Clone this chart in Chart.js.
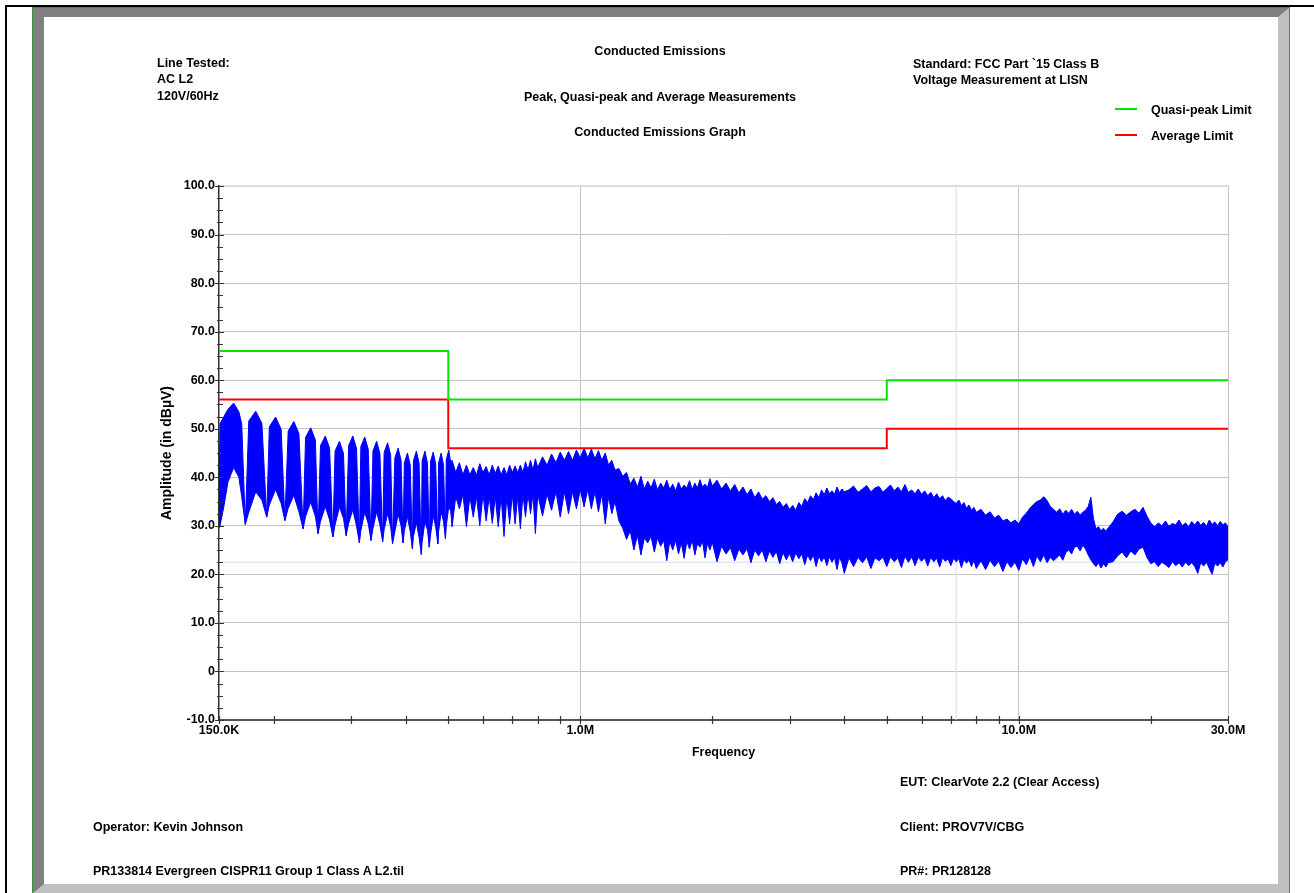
<!DOCTYPE html>
<html><head><meta charset="utf-8">
<script src="https://cdn.jsdelivr.net/npm/chart.js@4.4.1/dist/chart.umd.min.js"></script>
<style>
html,body{margin:0;padding:0;background:#fff;}
body{width:1314px;height:893px;position:relative;overflow:hidden;font-family:'Liberation Sans',Arial,Helvetica,sans-serif;font-weight:bold;font-size:12.5px;color:#000;}
.t{position:absolute;white-space:nowrap;line-height:15px;z-index:3;}
.c{text-align:center;width:600px;left:360px;}
.lg{position:absolute;width:22px;height:2px;z-index:3;}
</style></head><body>
<div style="position:absolute;left:5px;top:5px;width:1309px;height:2px;background:#000"></div>
<div style="position:absolute;left:5px;top:5px;width:2px;height:888px;background:#000"></div>
<div style="position:absolute;left:32px;top:7px;width:1258px;height:886px;box-sizing:border-box;border:1px solid #3f8f3f;border-bottom:none;background:#fff;">
  <div style="position:absolute;left:0;top:0;right:0;bottom:0;box-sizing:border-box;border-style:solid;border-width:9px 11px 9px 11px;border-color:#808080 #c0c0c0 #c0c0c0 #808080;"></div>
</div>
<canvas id="c" width="1314" height="893" style="position:absolute;left:0;top:0;z-index:2"></canvas>

<div class="t" style="left:157px;top:56px">Line Tested:</div>
<div class="t" style="left:157px;top:72px">AC L2</div>
<div class="t" style="left:157px;top:89px">120V/60Hz</div>
<div class="t c" style="top:44px">Conducted Emissions</div>
<div class="t c" style="top:90px">Peak, Quasi-peak and Average Measurements</div>
<div class="t c" style="top:125px">Conducted Emissions Graph</div>
<div class="t" style="left:913px;top:56.5px">Standard: FCC Part `15 Class B</div>
<div class="t" style="left:913px;top:73px">Voltage Measurement at LISN</div>
<div class="lg" style="left:1115px;top:108px;background:#00e600"></div>
<div class="t" style="left:1151px;top:102.5px">Quasi-peak Limit</div>
<div class="lg" style="left:1115px;top:134px;background:#ff0000"></div>
<div class="t" style="left:1151px;top:128.5px">Average Limit</div>
<div class="t" style="left:900px;top:774.5px">EUT: ClearVote 2.2 (Clear Access)</div>
<div class="t" style="left:93px;top:819.5px">Operator: Kevin Johnson</div>
<div class="t" style="left:900px;top:819.5px">Client: PROV7V/CBG</div>
<div class="t" style="left:93px;top:863.5px">PR133814 Evergreen CISPR11 Group 1 Class A L2.til</div>
<div class="t" style="left:900px;top:863.5px">PR#: PR128128</div>

<script>
// ---------- DATA ----------
// Limit lines (frequency in MHz, level in dBµV)
const limitFreq = [0.15, 0.5, 0.5, 5, 5, 30];
const qpLimit   = [66, 66, 56, 56, 60, 60];
const avgLimit  = [56, 56, 46, 46, 50, 50];

// Peak trace, low-frequency lobes (150 kHz - 0.5 MHz): frequency (MHz), upper / lower envelope (dBµV)
const lobeFreq = [
 0.1500,0.1508,0.1539,0.1572,0.1620,0.1665,0.1690,0.1722,
 0.1754,0.1819,0.1879,0.1927, 0.1954,0.2019,0.2079,0.2120,
 0.2157,0.2222,0.2282,0.2333, 0.2363,0.2428,0.2488,0.2523,
 0.2556,0.2621,0.2681,0.2728, 0.2759,0.2824,0.2884,0.2924,
 0.2963,0.3028,0.3088,0.3135, 0.3159,0.3224,0.3284,0.3332,
 0.3367,0.3432,0.3492,0.3542, 0.3570,0.3635,0.3695,0.3731,
 0.3777,0.3842,0.3902,0.3943, 0.3970,0.4035,0.4095,0.4141,
 0.4164,0.4229,0.4289,0.4340, 0.4358,0.4423,0.4483,0.4525,
 0.4555,0.4620,0.4680,0.4733, 0.4752,0.4817,0.4877,0.4926,
 0.4947,0.5012,0.5065
];
const lobeUpper = [
 33,51,52.5,54,55.3,53.5,51,30.3,
 51.6,53.6,51.1,31.8, 50.4,52.4,49.9,31.1,
 49.5,51.5,49,29.4, 48.2,50.2,47.7,28.4,
 46.5,48.5,46,27.7, 45.4,47.4,44.9,28.0,
 46.5,48.5,46,26.5, 46.3,48.3,45.8,27.0,
 45.4,47.4,44.9,26.7, 45.1,47.1,44.6,26.3,
 44,46,43.5,26.5, 43,45,42.5,25.3,
 43.4,45.4,42.9,24.1, 43.4,45.4,42.9,25.6,
 43.2,45.2,42.7,26.3, 43,45,42.5,27.4,
 43.6,45.6,43
];
const lobeLower = [
 29.5,30,34,39,42,40,36,30.3,
 32.8,37,35.3,31.8, 34.3,37.5,34.6,31.1,
 33.6,36.3,32.9,29.4, 31.9,34.9,31.9,28.4,
 30.9,34,31.2,27.7, 30.2,33.9,31.5,28.0,
 30.5,33.3,30,26.5, 29,32.8,30.5,27.0,
 29.5,32.9,30.2,26.7, 29.2,32.5,29.8,26.3,
 28.8,32.4,30,26.5, 29,31.9,28.8,25.3,
 27.8,30.7,27.6,24.1, 26.6,30.9,29.1,25.6,
 28.1,32,29.8,26.3, 28.8,32.9,30.9,27.4,
 29.9,34,33
];

// Peak trace, 0.5 - 1.2 MHz
const midFreq = [
 0.51,0.52,0.53,0.54,0.55,0.56,0.57,0.58,0.59,0.60,
 0.61,0.62,0.63,0.64,0.65,0.66,0.67,0.68,0.69,0.70,
 0.71,0.72,0.73,0.74,0.75,0.76,0.77,0.78,0.79,0.80,
 0.82,0.84,0.86,0.88,0.90,0.92,0.94,0.96,0.98,1.00,
 1.02,1.04,1.06,1.08,1.10,1.12,1.14,1.16,1.18,1.20
];
const midUpper = [
 43.5,41,43,40.5,42.5,40.5,42,40.5,42.8,41,
 42.2,40.5,42.5,40.8,42.3,40.5,42,40.5,42.5,41,
 42.3,41,42.5,41,43.2,41.5,43.5,41.5,43.8,42,
 44.2,42.5,44.8,43,45.2,43.5,45.3,43.5,45.6,44,
 46.0,44,45.8,43.8,45.5,43.5,45,42.5,43.5,41.5
];
const midLower = [
 29.8,36,33.5,36.5,29.8,36,31.8,36,30,36.5,
 31,36,30.5,36,29.8,36,27.8,36,30.4,36.5,
 30.4,36,29.4,36.5,31.8,36.5,32.5,36.5,28.4,36.5,
 32,36.5,33.2,37,31.8,37,32.5,37,33.5,37.5,
 33.9,37.5,33.5,37,32.9,36.5,30.4,36,32.5,35
];

// Peak trace, 1.2 - 30 MHz
const hfFreq = [
 1.225,1.25,1.275,1.3,1.325,1.35,1.375,1.4,1.425,1.45,
 1.475,1.5,1.525,1.55,1.575,1.6,1.625,1.65,1.675,1.7,
 1.725,1.75,1.775,1.8,1.825,1.85,1.875,1.9,1.925,1.95,
 1.975,2.0,
 2.05,2.1,2.15,2.2,2.25,2.3,2.35,2.4,2.45,2.5,
 2.55,2.6,2.65,2.7,2.75,2.8,2.85,2.9,2.95,3.0,
 3.05,3.1,3.15,3.2,3.25,3.3,3.35,3.4,3.45,3.5,
 3.55,3.6,3.65,3.7,3.75,3.8,3.85,3.9,3.95,4.0,
 4.1,4.2,4.3,4.4,4.5,4.6,4.7,4.8,4.9,5.0,
 5.1,5.2,5.3,5.4,5.5,5.6,5.7,5.8,5.9,6.0,
 6.1,6.2,6.3,6.4,6.5,6.6,6.7,6.8,6.9,7.0,
 7.1,7.2,7.3,7.4,7.5,7.6,7.7,7.8,7.9,8.0,
 8.2,8.4,8.6,8.8,9.0,9.2,9.4,9.6,9.8,10.0,
 10.2,10.4,10.6,10.8,11.0,11.2,11.4,11.6,11.8,12.0,
 12.2,12.4,12.6,12.8,13.0,13.2,13.4,13.6,13.8,14.0,
 14.2,14.4,14.6,14.8,15.0,15.2,15.4,15.6,15.8,16.0,
 16.4,16.8,17.2,17.6,18.0,18.4,18.8,19.2,19.6,20.0,
 20.4,20.8,21.2,21.6,22.0,22.4,22.8,23.2,23.6,24.0,
 24.4,24.8,25.2,25.6,26.0,26.4,26.8,27.2,27.6,28.0,
 28.4,28.8,29.2,29.6,30.0
];
const hfUpper = [
 41.8,40.2,41,38.6,39.8,38,40.2,37.6,39.2,37.8,
 39.6,37.4,38.8,37.8,39.4,37.5,38.6,37.2,39,37.6,
 38.4,37.8,39.3,37.5,38.8,37.8,39.5,38,38.6,37.9,
 39.7,38.2,
 39.4,37.6,38.8,37.2,38.5,36.8,38,36.4,37.6,35.8,
 37,35.5,36.2,35,35.8,34.4,35,33.8,34.6,33.4,
 34.2,33.2,34.8,34,35.6,34.8,36.2,35.4,36.8,35.8,
 37.4,36.4,37.8,36.6,37.2,36.5,38,36.8,37.6,37,
 37.4,38.2,36.9,37.6,38.3,37,37.8,38.1,36.9,37.7,
 38.4,37.2,38,37,38.5,36.9,37.4,36.6,37.6,36.5,
 37.2,36.2,36.9,35.8,36.6,35.6,36.2,35.2,35.9,35.6,
 35,34.6,35.3,34.2,34.8,33.6,34.3,33.2,33.8,32.8,
 33.4,32.2,32.9,31.6,32.2,31,31.4,30.6,31.2,30.4,
 31.8,32.6,33.6,34.4,35,35.3,36,35.2,34,33.4,
 32.8,33.5,32.4,33.2,32.6,33.4,32.4,33,32.2,32.8,
 33.2,34,35.9,31.5,29.4,29.8,29,29.5,28.9,29.6,
 30.8,32.4,33,32.2,32.9,33.4,32.6,33.8,32,30.6,
 29.8,30.6,30,31,29.9,30.5,30.2,31.2,30,30.6,
 29.8,30.9,30.2,31,30.1,30.7,29.9,31.2,30.3,30.8,
 30,30.9,30.2,30.6,29.8
];
const hfLower = [
 31,29.5,27.2,29,25,28,24,27.5,26.5,27.8,
 24.6,27.5,25.8,27,22.8,26.8,25,27,24.2,26.5,
 23.3,26.8,25.2,27,24,26.3,25.6,26.8,23.4,26.4,
 25,26.6,
 22.6,25.8,24.2,25.5,22.8,25.2,24,25.3,22.4,25,
 23.8,25,22.6,24.8,23.5,24.7,22.2,24.5,23,24.3,
 22.6,24.4,23.2,24.2,22,24,22.8,24,21.6,23.8,
 22.6,23.6,21.8,23.6,22.5,23.5,21,23.5,22.4,20.2,
 23.4,21.6,23.5,22.4,23.6,21.2,23.4,22.8,23.5,21.6,
 23.6,22.6,23.4,21.4,23.7,22.5,23.6,21.8,23.5,22.7,
 23.4,21.7,23.5,22.6,23.3,21.5,23.4,22.7,23.2,21.8,
 23.3,22.6,23.2,21.4,23.1,22.3,23,21.6,22.9,21.2,
 22.8,21,22.9,21.6,22.7,20.6,22.6,21.4,22.5,20.8,
 23.2,22,23.6,21.6,23.8,22.6,24,22.4,23.5,22.8,
 23.4,24,22.9,24.5,25,24.2,25.6,25.8,24.8,26,
 25.2,24,23,22.2,21.6,22.4,21.3,22.2,21.5,22.4,
 22.6,23.8,24.6,23.4,24.8,24,25.2,25.6,23.5,22.2,
 22.6,21.6,22.5,22,21.4,22.6,21.8,22.4,21.5,22.5,
 21.8,22.4,21.6,20.2,22.4,21.7,22.5,21.2,20,22.3,
 21.7,22.4,21.5,22.6,23
];

// Marker cursor lines (light blue)
const markerFreq = 7.2;
const markerLevel = 22.5;

// Axis ticks
const xTickValues = [0.15,0.2,0.3,0.4,0.5,0.6,0.7,0.8,0.9,1,2,3,4,5,6,7,8,9,10,20,30];
const xTickLabels = ['150.0K','','','','','','','','','1.0M','','','','','','','','','10.0M','','30.0M'];
const yTickValues = [-10,0,10,20,30,40,50,60,70,80,90,100];
const yTickLabels = ['-10.0','0','10.0','20.0','30.0','40.0','50.0','60.0','70.0','80.0','90.0','100.0'];

// ---------- CHART ----------
const traceFreq  = lobeFreq.concat(midFreq, hfFreq);
const traceUpper = lobeUpper.concat(midUpper, hfUpper);
const traceLower = lobeLower.concat(midLower, hfLower);

const FONT = "'Liberation Sans', Arial, Helvetica, sans-serif";
Chart.defaults.font = {family: FONT, size: 12.5, weight: 'bold'};
Chart.defaults.color = '#000';

const pts = (xs, ys) => xs.map((x, i) => ({x: x, y: ys[i]}));
const isMajorY = v => yTickValues.some(t => Math.abs(t - v) < 1e-6);
const isGridX = v => xTickLabels[xTickValues.indexOf(v)] !== '' && v !== xTickValues[0];

const crossTicks = {
  id: 'crossTicks',
  afterDraw(chart) {
    const {ctx, chartArea: a, scales: {x, y}} = chart;
    ctx.save();
    ctx.strokeStyle = '#333';
    ctx.lineWidth = 1.2;
    ctx.beginPath();
    y.ticks.forEach(t => {
      const py = Math.round(y.getPixelForValue(t.value)) + 0.5;
      const m = isMajorY(t.value);
      ctx.moveTo(a.left - (m ? 4 : 2), py);
      ctx.lineTo(a.left + (m ? 5 : 4), py);
    });
    x.ticks.forEach(t => {
      const px = Math.round(x.getPixelForValue(t.value)) + 0.5;
      ctx.moveTo(px, a.bottom - 4);
      ctx.lineTo(px, a.bottom + 4);
    });
    ctx.stroke();
    ctx.restore();
  }
};

new Chart(document.getElementById('c'), {
  type: 'line',
  data: {
    datasets: [
      {label: 'Quasi-peak Limit', data: pts(limitFreq, qpLimit), borderColor: '#00e600', borderWidth: 2, order: 0},
      {label: 'Average Limit', data: pts(limitFreq, avgLimit), borderColor: '#ff0000', borderWidth: 2, order: 1},
      {label: 'Peak', data: pts(traceFreq, traceUpper), borderColor: '#0000ff', backgroundColor: '#0000ff', borderWidth: 1, fill: '+1', order: 2},
      {label: 'Peak (low)', data: pts(traceFreq, traceLower), borderColor: '#0000ff', borderWidth: 1, fill: false, order: 3},
      {label: 'Marker f', data: [{x: markerFreq, y: -10}, {x: markerFreq, y: 100}], borderColor: '#cddff2', borderWidth: 1, order: 5},
      {label: 'Marker L', data: [{x: 0.15, y: markerLevel}, {x: 30, y: markerLevel}], borderColor: '#cddff2', borderWidth: 1, order: 5}
    ]
  },
  options: {
    responsive: false,
    animation: false,
    events: [],
    layout: {padding: {left: 159, right: 86, top: 186, bottom: 129}},
    elements: {point: {radius: 0}, line: {tension: 0}},
    plugins: {legend: {display: false}, tooltip: {enabled: false}},
    scales: {
      x: {
        type: 'logarithmic', min: 0.15, max: 30,
        afterFit(s) { s.height = 44; },
        afterBuildTicks(s) { s.ticks = xTickValues.map(v => ({value: v})); },
        ticks: {autoSkip: false, maxRotation: 0, padding: 3,
          callback: (v) => { const i = xTickValues.indexOf(v); return i >= 0 ? xTickLabels[i] : ''; }},
        grid: {drawTicks: false, lineWidth: 1,
          color: c => (c.tick && isGridX(c.tick.value)) ? '#c4c4c4' : 'rgba(0,0,0,0)'},
        border: {color: '#555', width: 2},
        title: {display: true, text: 'Frequency', padding: {top: 0, bottom: 3.5}}
      },
      y: {
        min: -10, max: 100,
        afterFit(s) { s.width = 60; },
        ticks: {stepSize: 2.5, maxTicksLimit: 60, autoSkip: false, padding: 4,
          callback: (v) => { const i = yTickValues.findIndex(t => Math.abs(t - v) < 1e-6); return i >= 0 ? yTickLabels[i] : ''; }},
        grid: {drawTicks: false,
          lineWidth: c => (c.tick && c.tick.value === 100) ? 2 : 1,
          color: c => !c.tick ? 'rgba(0,0,0,0)' : (c.tick.value === 100 ? '#dcdcdc' : (isMajorY(c.tick.value) && c.tick.value !== -10 ? '#c4c4c4' : 'rgba(0,0,0,0)'))},
        border: {color: '#333', width: 1.5},
        title: {display: true, text: 'Amplitude (in dBµV)', font: {size: 14, weight: 'bold'}, padding: {top: 0, bottom: 0}}
      }
    }
  },
  plugins: [crossTicks]
});
</script>
</body></html>
